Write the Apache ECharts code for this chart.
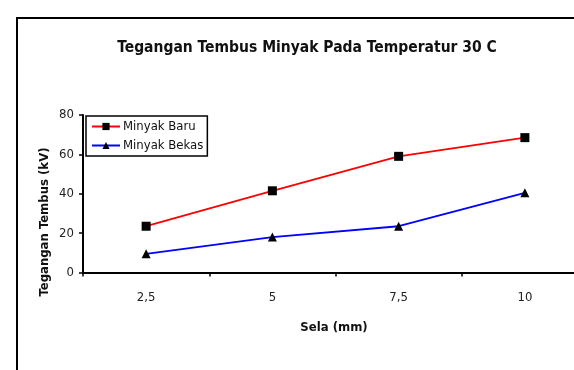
<!DOCTYPE html>
<html>
<head>
<meta charset="utf-8">
<script src="https://cdn.jsdelivr.net/npm/echarts@6/dist/echarts.min.js"></script>
<style>
html,body{margin:0;padding:0;background:#fff;}
#chart{width:574px;height:370px;}
</style>
</head>
<body>
<div id="chart"></div>
<script>
var categories = ['2,5', '5', '7,5', '10'];
var minyakBaru = [23.5, 41.5, 59, 68.5];
var minyakBekas = [9.5, 18, 23.5, 40.5];
var yTicks = { min: 0, max: 80, interval: 20 };

var FONT = '"Liberation Sans Narrow", "DejaVu Sans Condensed", "Liberation Sans", Arial, sans-serif';

var chart = echarts.init(document.getElementById('chart'), null, { renderer: 'canvas' });
chart.setOption({
  backgroundColor: '#ffffff',
  animation: false,
  title: {
    text: 'Tegangan Tembus Minyak Pada Temperatur 30 C',
    left: 302,
    textAlign: 'center',
    top: 35,
    textStyle: { fontFamily: FONT, fontWeight: 'bold', fontSize: 15.5, color: '#111' }
  },
  legend: {
    left: 86,
    top: 116,
    orient: 'vertical',
    itemWidth: 28,
    itemHeight: 9,
    itemGap: 6,
    padding: [4, 4, 4, 5],
    borderColor: '#000',
    borderWidth: 1.5,
    backgroundColor: '#fff',
    textStyle: { fontFamily: FONT, fontSize: 13, color: '#111', padding: [0, 0, 0, -2] },
    data: ['Minyak Baru', 'Minyak Bekas']
  },
  grid: {
    left: 83, right: -14, top: 115, bottom: 97.5,
    containLabel: false,
    outerBoundsMode: 'none'
  },
  xAxis: {
    type: 'category',
    data: categories,
    boundaryGap: true,
    axisLine: { lineStyle: { color: '#000', width: 2 } },
    axisTick: { show: true, length: 4, inside: false, lineStyle: { color: '#000', width: 1.5 } },
    axisLabel: { fontFamily: FONT, fontSize: 13, color: '#222', margin: 19 },
    splitLine: { show: false }
  },
  yAxis: {
    type: 'value',
    min: yTicks.min,
    max: yTicks.max,
    interval: yTicks.interval,
    axisLine: { show: true, lineStyle: { color: '#000', width: 2 } },
    axisTick: { show: true, length: 4, lineStyle: { color: '#000', width: 1.5 } },
    axisLabel: { fontFamily: FONT, fontSize: 13, color: '#222', margin: 9 },
    splitLine: { show: false }
  },
  graphic: [
    {
      type: 'rect',
      shape: { x: 17, y: 18, width: 620, height: 420 },
      style: { fill: 'none', stroke: '#000', lineWidth: 2 },
      silent: true, z: -1
    },
    {
      type: 'text',
      x: 45, y: 222,
      rotation: Math.PI / 2,
      style: {
        text: 'Tegangan Tembus (kV)',
        fontFamily: FONT, fontWeight: 'bold', fontSize: 13, fill: '#111',
        align: 'center', verticalAlign: 'middle'
      }
    },
    {
      type: 'text',
      x: 334, y: 328,
      style: {
        text: 'Sela (mm)',
        fontFamily: FONT, fontWeight: 'bold', fontSize: 13, fill: '#111',
        align: 'center', verticalAlign: 'middle'
      }
    }
  ],
  series: [
    {
      name: 'Minyak Baru',
      type: 'line',
      data: minyakBaru,
      symbol: 'rect',
      symbolSize: 9,
      itemStyle: { color: '#000' },
      lineStyle: { color: '#ff0000', width: 1.8 },
      z: 3
    },
    {
      name: 'Minyak Bekas',
      type: 'line',
      data: minyakBekas,
      symbol: 'triangle',
      symbolSize: 9,
      itemStyle: { color: '#000' },
      lineStyle: { color: '#0000ff', width: 1.8 },
      z: 3
    }
  ]
});
</script>
</body>
</html>
